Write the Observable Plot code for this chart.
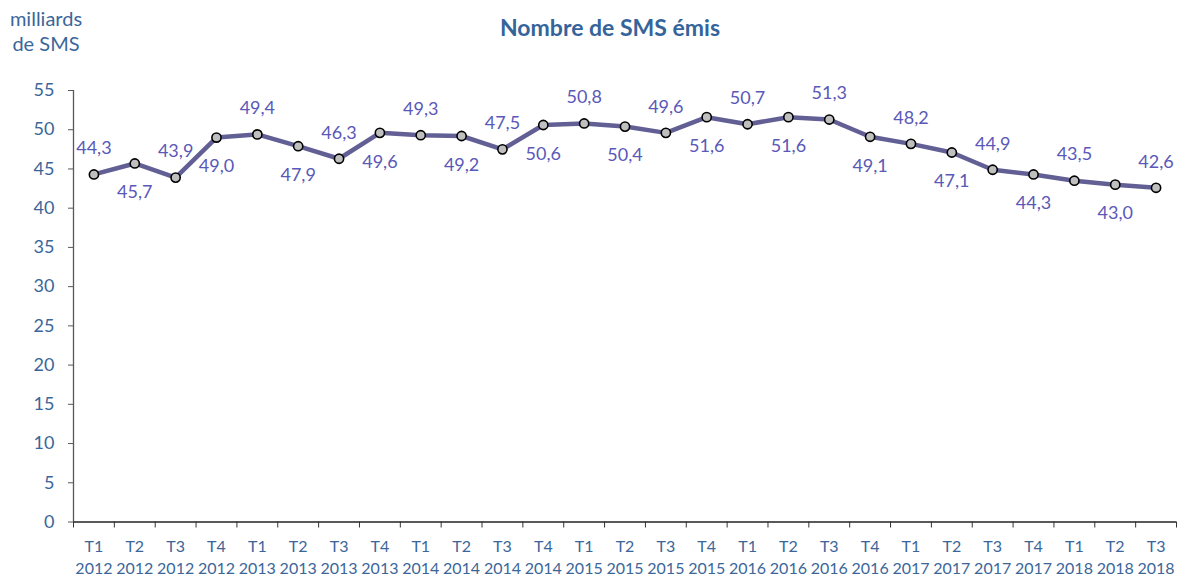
<!DOCTYPE html>
<html>
<head>
<meta charset="utf-8">
<script src="https://cdn.jsdelivr.net/npm/d3@7"></script>
<script src="https://cdn.jsdelivr.net/npm/@observablehq/plot@0.6"></script>
<style>
  body { margin: 0; background: #fff; font-family: Lato, sans-serif; }
  #wrap { position: relative; width: 1188px; height: 579px; overflow: hidden; }
  #title { position: absolute; left: 610px; top: 13px; transform: translateX(-50%);
           font-weight: bold; font-size: 23px; color: #35649a; white-space: nowrap; }
  #unit { position: absolute; left: 46px; top: 6px; transform: translateX(-50%);
          font-size: 20px; line-height: 25px; color: #3b6699; text-align: center; white-space: nowrap; }
  #chart { position: absolute; left: 0; top: 0; }
  .xlab text { font-size: 16px; }
</style>
</head>
<body>
<div id="wrap">
  <div id="chart"></div>
  <div id="title">Nombre de SMS émis</div>
  <div id="unit">milliards<br>de SMS</div>
</div>
<script>
const quarters = ["T1","T2","T3","T4","T1","T2","T3","T4","T1","T2","T3","T4","T1","T2","T3","T4","T1","T2","T3","T4","T1","T2","T3","T4","T1","T2","T3"];
const years = ["2012","2012","2012","2012","2013","2013","2013","2013","2014","2014","2014","2014","2015","2015","2015","2015","2016","2016","2016","2016","2017","2017","2017","2017","2018","2018","2018"];
const sms = [44.3,45.7,43.9,49.0,49.4,47.9,46.3,49.6,49.3,49.2,47.5,50.6,50.8,50.4,49.6,51.6,50.7,51.6,51.3,49.1,48.2,47.1,44.9,44.3,43.5,43.0,42.6];
const labelSide = ["above","below","above","below","above","below","above","below","above","below","above","below","above","below","above","below","above","below","above","below","above","below","above","below","above","below","above"];
const yTicks = [0,5,10,15,20,25,30,35,40,45,50,55];

const data = sms.map((v, i) => ({
  pos: i + 0.5,
  value: v,
  label: v.toFixed(1).replace(".", ","),
  side: labelSide[i],
  cat: quarters[i] + "\n" + years[i]
}));

const axisColor = "#3b6699";
const labelColor = "#5a58b8";
const lineColor = "#625f95";

const chart = Plot.plot({
  width: 1188,
  height: 579,
  marginLeft: 73,
  marginRight: 12,
  marginTop: 90,
  marginBottom: 57.5,
  x: { type: "linear", domain: [0, sms.length] },
  y: { domain: [0, 55] },
  style: { fontFamily: "Lato, sans-serif", fontSize: "18px", background: "#fff" },
  marks: [
    Plot.axisY({ ticks: yTicks, tickSize: 5, tickPadding: 14, fill: axisColor, stroke: "#595959", label: null, tickFormat: d => String(d) }),
    Plot.ruleX([0], { stroke: "#595959", strokeWidth: 1.3 }),
    Plot.ruleY([0], { stroke: "#222", strokeWidth: 1.3 }),
    Plot.axisX({ ticks: d3.range(0, sms.length + 1), tickSize: 6, tickFormat: () => "", stroke: "#333", label: null }),
    Plot.axisX({ ticks: data.map(d => d.pos), tickSize: 0, tickPadding: 15, lineHeight: 1.36, fill: axisColor, label: null,
                 fontSize: 16, className: "xlab",
                 tickFormat: d => data[Math.floor(d)].cat }),
    Plot.line(data, { x: "pos", y: "value", stroke: lineColor, strokeWidth: 4.5 }),
    Plot.dot(data, { x: "pos", y: "value", r: 4.6, fill: "#bfbfbf", stroke: "#000", strokeWidth: 1.6 }),
    Plot.text(data.filter(d => d.side === "above"), { x: "pos", y: "value", text: "label", dy: -26, fill: labelColor }),
    Plot.text(data.filter(d => d.side === "below"), { x: "pos", y: "value", text: "label", dy: 29, fill: labelColor })
  ]
});
document.getElementById("chart").appendChild(chart);
</script>
</body>
</html>
